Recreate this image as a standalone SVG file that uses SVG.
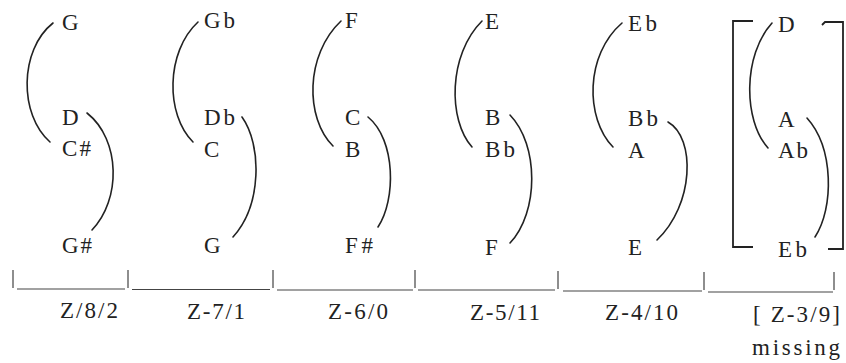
<svg xmlns="http://www.w3.org/2000/svg" width="846" height="363" viewBox="0 0 846 363">
<style>
.t{font-family:'Liberation Serif','Times New Roman',serif;font-size:23px;fill:#222}
.arc{fill:none;stroke:#222;stroke-width:1.6;stroke-linecap:round}
.rule{fill:none;stroke:#444;stroke-width:1.2}
.br{fill:none;stroke:#222;stroke-width:1.8}
</style>
<rect width="846" height="363" fill="#fff"/>
<g id="connectors">
<path class="arc" d="M53,23 C19,50 19,115 50,142"/>
<path class="arc" d="M87,113 C121,140 121,200 92,230"/>
<path class="arc" d="M198,22 C165.5,52 165.5,115 193,142"/>
<path class="arc" d="M242,117 C262,145 262,205 233,237"/>
<path class="arc" d="M341,21 C305,55 305,118 333,146"/>
<path class="arc" d="M368,117 C396,140 396,200 378,227"/>
<path class="arc" d="M482,21 C448,55 448,120 472,147"/>
<path class="arc" d="M510,115 C539,145 539,212 510,243"/>
<path class="arc" d="M622,23 C585,55 585,118 613,147"/>
<path class="arc" d="M668,122 C696,138 694,205 657,240"/>
<path class="arc" d="M772,23 C743,55 743,120 768,148"/>
<path class="arc" d="M807,118 C834,148 834,208 815,237"/>
</g>
<g id="col1">
<text class="t" x="62" y="30">G</text>
<text class="t" x="62" y="125">D</text>
<text class="t" x="62" y="156" textLength="29">C#</text>
<text class="t" x="62" y="253" textLength="30">G#</text>
</g>
<g id="col2">
<text class="t" x="204" y="28" textLength="31">Gb</text>
<text class="t" x="204" y="125" textLength="31">Db</text>
<text class="t" x="204" y="157">C</text>
<text class="t" x="204" y="253">G</text>
</g>
<g id="col3">
<text class="t" x="345" y="28">F</text>
<text class="t" x="345" y="125">C</text>
<text class="t" x="345" y="157">B</text>
<text class="t" x="345" y="253" textLength="28">F#</text>
</g>
<g id="col4">
<text class="t" x="485" y="29">E</text>
<text class="t" x="485" y="125">B</text>
<text class="t" x="485" y="157" textLength="30">Bb</text>
<text class="t" x="485" y="255">F</text>
</g>
<g id="col5">
<text class="t" x="628" y="31" textLength="29">Eb</text>
<text class="t" x="628" y="126" textLength="30">Bb</text>
<text class="t" x="628" y="158">A</text>
<text class="t" x="628" y="255">E</text>
</g>
<g id="col6">
<path class="br" d="M753,21 H733 V247 H753"/>
<path class="br" d="M822,25 L825,22 H843 V249 H828"/>
<text class="t" x="778" y="32">D</text>
<text class="t" x="778" y="127">A</text>
<text class="t" x="778" y="158" textLength="30">Ab</text>
<text class="t" x="778" y="257" textLength="29">Eb</text>
</g>
<g id="labels">
<text class="t" x="60" y="318" textLength="58">Z/8/2</text>
<text class="t" x="187" y="319" textLength="58">Z-7/1</text>
<text class="t" x="328" y="319" textLength="60">Z-6/0</text>
<text class="t" x="470" y="320" textLength="70">Z-5/11</text>
<text class="t" x="605" y="320" textLength="73">Z-4/10</text>
<text class="t" x="753" y="322" textLength="87">[ Z-3/9]</text>
<text class="t" x="752" y="355" textLength="88">missing</text>
</g>
<g id="scale">
<path class="rule" d="M13,270 V288 M128,270 V288 M273,270 V288 M415,270 V288 M558,271 V289 M704,272 V290 M834,272 V290"/>
<path class="rule" d="M17,289 H125 M132,289.5 H270 M277,290 H413 M418,290 H555 M563,291 H702 M708,292 H833"/>
</g>
</svg>
